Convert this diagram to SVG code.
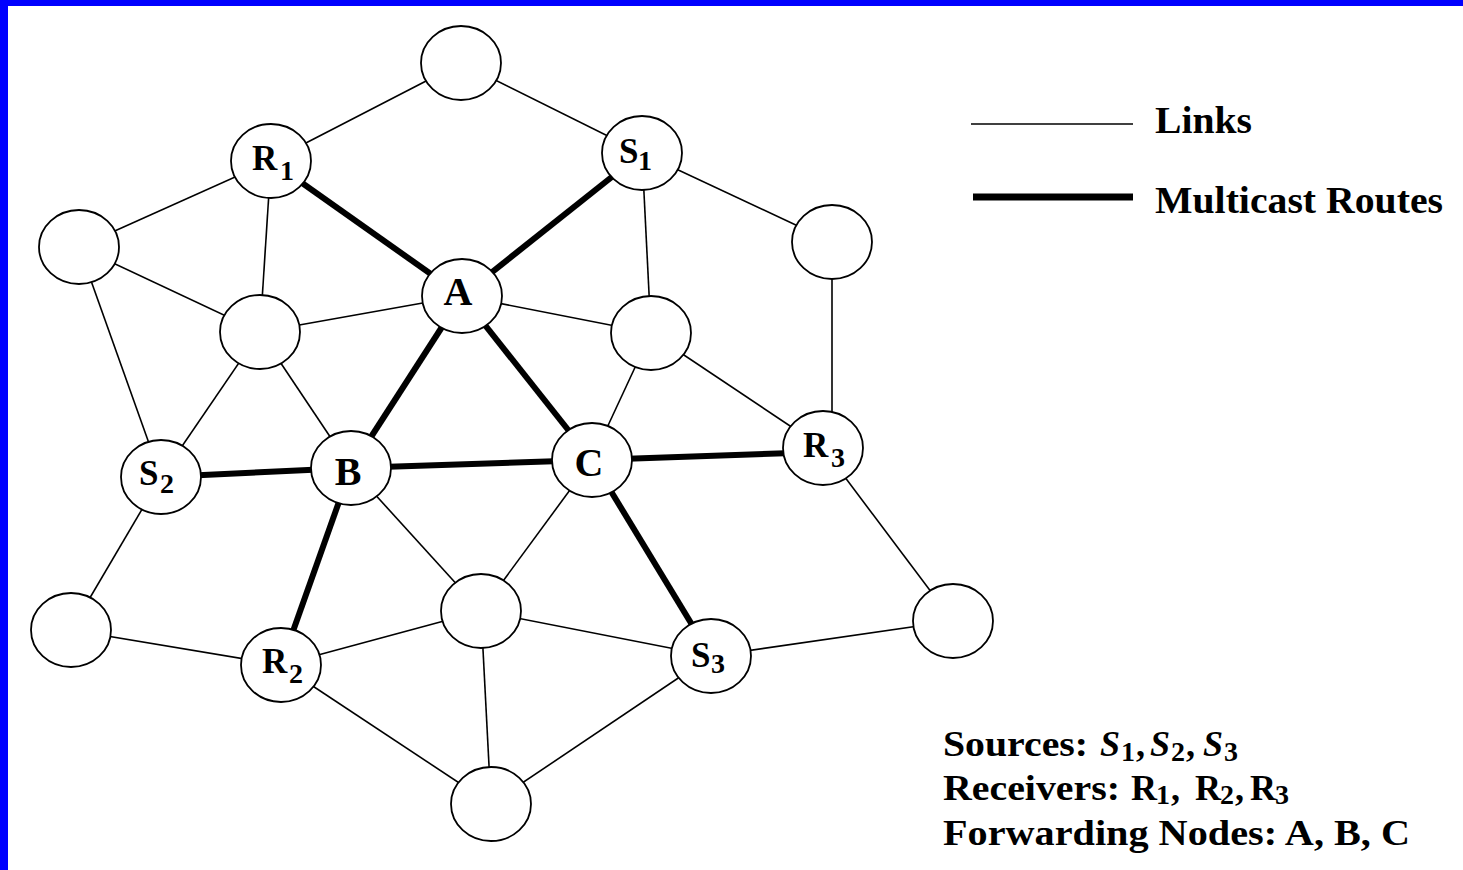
<svg xmlns="http://www.w3.org/2000/svg" width="1463" height="870" viewBox="0 0 1463 870">
  <style>
    .link { stroke: #000; stroke-width: 1.6; fill: none; }
    .route { stroke: #000; stroke-width: 6; fill: none; }
    .node ellipse { fill: #fff; stroke: #000; stroke-width: 1.8; }
    .lbl { font-family: "Liberation Serif", "Times New Roman", serif; font-weight: bold; fill: #000; }
    .big { font-size: 40px; }
    .mid { font-size: 35px; }
    .sub { font-size: 28px; }
    .txt { font-family: "Liberation Serif", "Times New Roman", serif; font-weight: bold; font-size: 38px; fill: #000; }
    .sum { font-size: 36px; }
  </style>

  <!-- frame -->
  <rect x="0" y="0" width="1463" height="870" fill="#fff"/>
  <rect x="0" y="0" width="1463" height="6" fill="#0000ff"/>
  <rect x="0" y="0" width="8" height="870" fill="#0000ff"/>

  <!-- connectors -->
  <g id="connectors">
    <g id="links">
      <line class="link" x1="461" y1="63" x2="271" y2="161"/>
      <line class="link" x1="461" y1="63" x2="642" y2="153"/>
      <line class="link" x1="271" y1="161" x2="79" y2="247"/>
      <line class="link" x1="271" y1="161" x2="260" y2="332"/>
      <line class="link" x1="642" y1="153" x2="651" y2="333"/>
      <line class="link" x1="642" y1="153" x2="832" y2="242"/>
      <line class="link" x1="79" y1="247" x2="260" y2="332"/>
      <line class="link" x1="79" y1="247" x2="161" y2="477"/>
      <line class="link" x1="462" y1="296" x2="260" y2="332"/>
      <line class="link" x1="462" y1="296" x2="651" y2="333"/>
      <line class="link" x1="260" y1="332" x2="161" y2="477"/>
      <line class="link" x1="260" y1="332" x2="351" y2="468"/>
      <line class="link" x1="651" y1="333" x2="592" y2="460"/>
      <line class="link" x1="651" y1="333" x2="823" y2="448"/>
      <line class="link" x1="832" y1="242" x2="832" y2="448"/>
      <line class="link" x1="161" y1="477" x2="71" y2="630"/>
      <line class="link" x1="71" y1="630" x2="281" y2="665"/>
      <line class="link" x1="351" y1="468" x2="481" y2="611"/>
      <line class="link" x1="592" y1="460" x2="481" y2="611"/>
      <line class="link" x1="281" y1="665" x2="481" y2="611"/>
      <line class="link" x1="281" y1="665" x2="491" y2="804"/>
      <line class="link" x1="481" y1="611" x2="711" y2="656"/>
      <line class="link" x1="481" y1="611" x2="491" y2="804"/>
      <line class="link" x1="711" y1="656" x2="953" y2="621"/>
      <line class="link" x1="823" y1="448" x2="953" y2="621"/>
      <line class="link" x1="711" y1="656" x2="491" y2="804"/>
    </g>
    <g id="routes">
      <line class="route" x1="271" y1="161" x2="462" y2="296"/>
      <line class="route" x1="642" y1="153" x2="462" y2="296"/>
      <line class="route" x1="462" y1="296" x2="351" y2="468"/>
      <line class="route" x1="462" y1="296" x2="592" y2="460"/>
      <line class="route" x1="161" y1="477" x2="351" y2="468"/>
      <line class="route" x1="351" y1="468" x2="592" y2="460"/>
      <line class="route" x1="592" y1="460" x2="823" y2="452"/>
      <line class="route" x1="351" y1="468" x2="281" y2="665"/>
      <line class="route" x1="592" y1="460" x2="711" y2="656"/>
    </g>
  </g>

  <!-- nodes -->
  <g id="n-top" class="node"><ellipse cx="461" cy="63" rx="40" ry="37"/></g>
  <g id="n-R1" class="node"><ellipse cx="271" cy="161" rx="40" ry="37"/>
    <text class="lbl mid" x="252" y="170">R<tspan class="sub" x="280" y="180">1</tspan></text></g>
  <g id="n-S1" class="node"><ellipse cx="642" cy="153" rx="40" ry="37"/>
    <text class="lbl mid" x="619" y="163">S<tspan class="sub" x="638" y="170">1</tspan></text></g>
  <g id="n-left" class="node"><ellipse cx="79" cy="247" rx="40" ry="37"/></g>
  <g id="n-right" class="node"><ellipse cx="832" cy="242" rx="40" ry="37"/></g>
  <g id="n-A" class="node"><ellipse cx="462" cy="296" rx="40" ry="37"/>
    <text class="lbl big" x="458" y="305" text-anchor="middle">A</text></g>
  <g id="n-midleft" class="node"><ellipse cx="260" cy="332" rx="40" ry="37"/></g>
  <g id="n-midright" class="node"><ellipse cx="651" cy="333" rx="40" ry="37"/></g>
  <g id="n-S2" class="node"><ellipse cx="161" cy="477" rx="40" ry="37"/>
    <text class="lbl mid" x="139" y="485">S<tspan class="sub" x="160" y="493">2</tspan></text></g>
  <g id="n-B" class="node"><ellipse cx="351" cy="468" rx="40" ry="37"/>
    <text class="lbl big" x="348" y="485" text-anchor="middle">B</text></g>
  <g id="n-C" class="node"><ellipse cx="592" cy="460" rx="40" ry="37"/>
    <text class="lbl big" x="589" y="476" text-anchor="middle">C</text></g>
  <g id="n-R3" class="node"><ellipse cx="823" cy="448" rx="40" ry="37"/>
    <text class="lbl mid" x="803" y="457">R<tspan class="sub" x="831" y="467">3</tspan></text></g>
  <g id="n-botleft" class="node"><ellipse cx="71" cy="630" rx="40" ry="37"/></g>
  <g id="n-R2" class="node"><ellipse cx="281" cy="665" rx="40" ry="37"/>
    <text class="lbl mid" x="262" y="673">R<tspan class="sub" x="289" y="683">2</tspan></text></g>
  <g id="n-botcenter" class="node"><ellipse cx="481" cy="611" rx="40" ry="37"/></g>
  <g id="n-S3" class="node"><ellipse cx="711" cy="656" rx="40" ry="37"/>
    <text class="lbl mid" x="691" y="667">S<tspan class="sub" x="711" y="673">3</tspan></text></g>
  <g id="n-botright" class="node"><ellipse cx="953" cy="621" rx="40" ry="37"/></g>
  <g id="n-bottom" class="node"><ellipse cx="491" cy="804" rx="40" ry="37"/></g>

  <!-- legend -->
  <g id="legend">
    <line class="link" x1="971" y1="124" x2="1133" y2="124"/>
    <line x1="973" y1="197" x2="1133" y2="197" stroke="#000" stroke-width="7"/>
    <text class="txt" x="1155" y="133" textLength="97" lengthAdjust="spacingAndGlyphs">Links</text>
    <text class="txt" x="1155" y="213" textLength="288" lengthAdjust="spacingAndGlyphs">Multicast Routes</text>
  </g>

  <!-- summary -->
  <g id="summary">
    <text class="txt sum" x="943" y="756" textLength="145" lengthAdjust="spacingAndGlyphs">Sources:</text>
    <text class="txt sum" x="1100" y="756"><tspan font-style="italic">S</tspan><tspan class="sub" x="1121" y="761">1</tspan><tspan x="1136" y="756">,</tspan><tspan x="1150" font-style="italic">S</tspan><tspan class="sub" x="1171" y="761">2</tspan><tspan x="1186" y="756">,</tspan><tspan x="1203" font-style="italic">S</tspan><tspan class="sub" x="1224" y="761">3</tspan></text>
    <text class="txt sum" x="943" y="800" textLength="177" lengthAdjust="spacingAndGlyphs">Receivers:</text>
    <text class="txt sum" x="1131" y="800">R<tspan class="sub" x="1156" y="804">1</tspan><tspan x="1171" y="800">,</tspan><tspan x="1195">R</tspan><tspan class="sub" x="1220" y="804">2</tspan><tspan x="1235" y="800">,</tspan><tspan x="1250">R</tspan><tspan class="sub" x="1275" y="804">3</tspan></text>
    <text class="txt sum" x="943" y="845" textLength="467" lengthAdjust="spacingAndGlyphs">Forwarding Nodes: A, B, C</text>
  </g>
</svg>
